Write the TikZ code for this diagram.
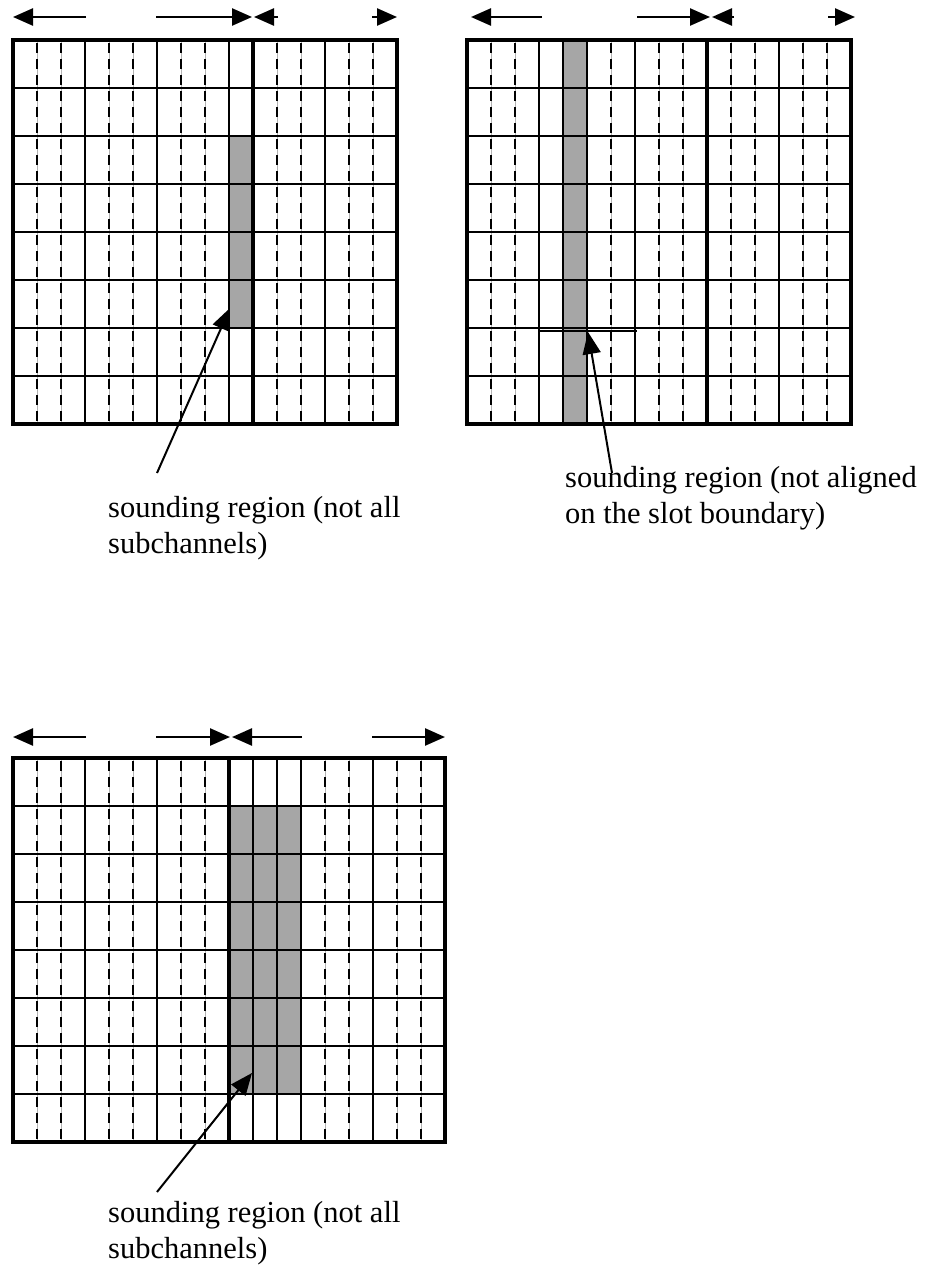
\documentclass[tikz,border=0pt]{standalone}
\usepackage{fontspec}
\setmainfont{Liberation Serif}
\usetikzlibrary{arrows.meta}
\begin{document}
\begin{tikzpicture}[x=1pt,y=-1pt,
  border/.style={line width=4.5pt},
  divider/.style={line width=4pt},
  cellline/.style={line width=2.7pt},
  dashline/.style={line width=2.2pt, dash pattern=on 10pt off 6pt, dash phase=-3pt},
  guide/.style={draw=gray!60, line width=0.8pt},
  shadefill/.style={fill=gray!70},
  dimarrow/.style={line width=2.5pt, -{Triangle[length=20pt,width=17pt]}},
  pointer/.style={line width=2pt, -{Triangle[length=22pt,width=18pt]}},
  lbl/.style={inner sep=0pt, align=left, font={\fontsize{30.5pt}{36pt}\selectfont}}]
\useasboundingbox (0,0) rectangle (925,1274);

% ---------------- top-left grid ----------------
\fill[shadefill] (229,136) rectangle (253,328);
\foreach \k in {1,2,4,5,7,8,11,12,14,15}{
  \draw[guide] ({13+24*\k},40) -- ({13+24*\k},424);
  \draw[dashline] ({13+24*\k},40) -- ({13+24*\k},424);
}
\foreach \k in {3,6,9,13} \draw[cellline] ({13+24*\k},40) -- ({13+24*\k},424);
\foreach \r in {1,...,7} \draw[cellline] (13,{40+48*\r}) -- (397,{40+48*\r});
\draw[divider] (253,40) -- (253,424);
\draw[border] (13,40) rectangle (397,424);
\draw[dimarrow] (86,17) -- (13,17);
\draw[dimarrow] (156,17) -- (252,17);
\draw[dimarrow] (278,17) -- (254,17);
\draw[dimarrow] (372,17) -- (397,17);

% ---------------- top-right grid ----------------
\fill[shadefill] (563,40) rectangle (587,424);
\foreach \k in {1,2,6,8,9,11,12,14,15}{
  \draw[guide] ({467+24*\k},40) -- ({467+24*\k},424);
  \draw[dashline] ({467+24*\k},40) -- ({467+24*\k},424);
}
\foreach \k in {3,4,5,7,13} \draw[cellline] ({467+24*\k},40) -- ({467+24*\k},424);
\foreach \r in {1,...,7} \draw[cellline] (467,{40+48*\r}) -- (851,{40+48*\r});
\draw[cellline] (540,331) -- (637,331);
\draw[divider] (707,40) -- (707,424);
\draw[border] (467,40) rectangle (851,424);
\draw[dimarrow] (542,17) -- (471,17);
\draw[dimarrow] (637,17) -- (710,17);
\draw[dimarrow] (734,17) -- (712,17);
\draw[dimarrow] (828,17) -- (855,17);

% ---------------- bottom grid ----------------
\fill[shadefill] (229,806) rectangle (301,1094);
\foreach \k in {1,2,4,5,7,8,13,14,16,17}{
  \draw[guide] ({13+24*\k},758) -- ({13+24*\k},1142);
  \draw[dashline] ({13+24*\k},758) -- ({13+24*\k},1142);
}
\foreach \k in {3,6,10,11,12,15} \draw[cellline] ({13+24*\k},758) -- ({13+24*\k},1142);
\foreach \r in {1,...,7} \draw[cellline] (13,{758+48*\r}) -- (445,{758+48*\r});
\draw[divider] (229,758) -- (229,1142);
\draw[border] (13,758) rectangle (445,1142);
\draw[dimarrow] (86,737) -- (13,737);
\draw[dimarrow] (156,737) -- (230,737);
\draw[dimarrow] (302,737) -- (232,737);
\draw[dimarrow] (372,737) -- (445,737);

% ---------------- labels and pointers ----------------
% (base anchor of a multi-line node is the baseline of its last line)
\node[lbl, anchor=base west] (lblA) at (108,553) {sounding region (not all\\subchannels)};
\node[lbl, anchor=base west] (lblB) at (565,523) {sounding region (not aligned\\on the slot boundary)};
\node[lbl, anchor=base west] (lblC) at (108,1258) {sounding region (not all\\subchannels)};

\coordinate (tailA) at (157,473);
\coordinate (tipA) at (230,308);
\coordinate (tailB) at (612,473);
\coordinate (tipB) at (588,332);
\coordinate (tailC) at (157,1192);
\coordinate (tipC) at (252,1073);
\draw[pointer] (tailA) -- (tipA);
\draw[pointer] (tailB) -- (tipB);
\draw[pointer] (tailC) -- (tipC);
\end{tikzpicture}
\end{document}
